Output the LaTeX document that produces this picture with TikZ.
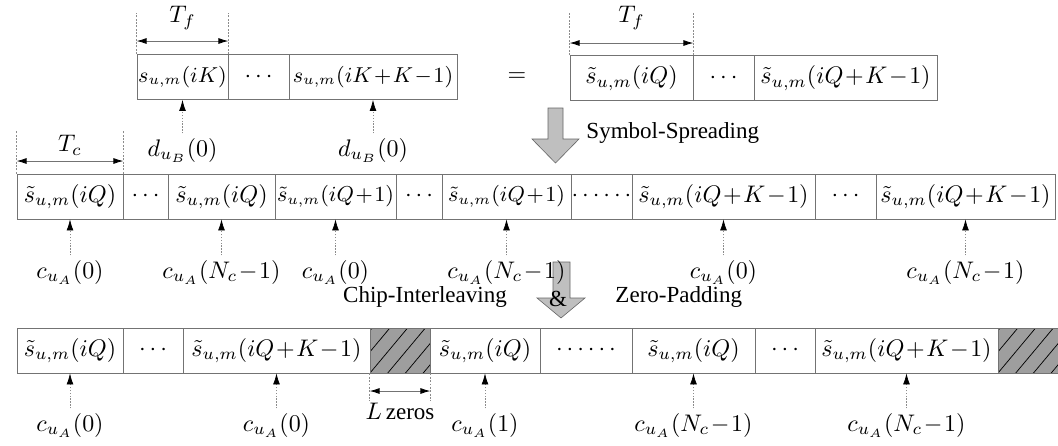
\documentclass[tikz,border=0pt]{standalone}
\usepackage{fontspec}
\newfontfamily\tmfont{Liberation Serif}
\usetikzlibrary{arrows.meta}
\newcommand\mplus{\mskip1.2mu{+}\mskip1.2mu}
\newcommand\mminus{\mskip1.2mu{-}\mskip1.2mu}
\newcommand\stl{\tilde{s}_{u,m}}
\newcommand\smallfit{\fontsize{9.2}{11}\selectfont}
\newcommand\mycell[5]{\node[cellsty, minimum width={(#3-#2)*0.417pt}] (#1) at ({(#2+#3)/2},#4) {\makebox[0pt]{#5}};}
\newcommand\myhatch[4]{\node[hatchsty, minimum width={(#3-#2)*0.417pt}] (#1) at ({(#2+#3)/2},#4) {};}
\begin{document}
\begin{tikzpicture}[x=0.417pt,y=-0.417pt,
  every node/.style={font=\fontsize{9.7}{11.6}\selectfont, inner sep=0pt},
  cellsty/.style={draw=black!55, line width=0.35pt, minimum height=18.77pt, inner sep=0pt},
  hatchsty/.style={cellsty, fill=black!38,
    path picture={\foreach \k in {-4,...,4}{\draw[black, line width=0.3pt]
      ([xshift=\k*7.4pt]path picture bounding box.south west) -- ++(16.7pt,20pt);}}},
  sigsty/.style={black!45, line width=0.3pt, dash pattern=on 0.6pt off 0.6pt,
    -{Latex[color=black,length=4.6pt,width=2.9pt]}, shorten <=1.7pt},
  dimsty/.style={black!55, line width=0.35pt,
    {Latex[color=black,length=4.2pt,width=2.5pt]}-{Latex[color=black,length=4.2pt,width=2.5pt]}},
  extsty/.style={black!45, line width=0.25pt, dash pattern=on 0.8pt off 0.6pt},
  blocksty/.style={fill=black!25, draw=black!60, line width=0.25pt},
  txtsty/.style={font=\fontsize{9.6}{11.5}\selectfont\tmfont}
]
\useasboundingbox (0,0) rectangle (1058,445);

% ---- row 1 ----
\mycell{c11}{137}{228}{77}{{\smallfit$s_{u,m}(iK)$}}
\mycell{c12}{228}{289}{77}{$\cdots$}
\mycell{c13}{289}{457}{77}{{\smallfit$s_{u,m}(iK\mplus K\mminus 1)$}}
\node (eq) at (517,77) {$=$};
\mycell{r11}{570}{693}{78}{$\stl(iQ)$}
\mycell{r12}{693}{754}{78}{$\cdots$}
\mycell{r13}{754}{937}{78}{$\stl(iQ\mplus K\mminus 1)$}

% T_f dimensions
\draw[extsty] (c11.north west) -- (c11.north west |- 0,13);
\draw[extsty] (c11.north east) -- (c11.north east |- 0,13);
\draw[dimsty] (c11.north west |- 0,41) -- (c11.north east |- 0,41);
\node (tf1) at (182.5,18) {$T_f$};
\draw[extsty] (r11.north west) -- (r11.north west |- 0,13);
\draw[extsty] (r11.north east) -- (r11.north east |- 0,13);
\draw[dimsty] (r11.north west |- 0,43) -- (r11.north east |- 0,43);
\node (tf2) at (631.5,18) {$T_f$};

% d labels
\node (d1) at (182.5,150) {$d_{u_B}(0)$};
\node (d2) at (373,150) {$d_{u_B}(0)$};
\draw[sigsty] (d1) -- (c11);
\draw[sigsty] (d2) -- (c13);

% block arrow 1
\draw[blocksty] (548,108) -- (563,108) -- (563,139) -- (579,139) -- (555.5,163) -- (532,139) -- (548,139) -- cycle;
\node[txtsty, anchor=west] (sp) at (586,133) {Symbol-Spreading};

% ---- row 2 ----
\mycell{c21}{17}{123}{196.5}{$\stl(iQ)$}
\mycell{c22}{123}{168}{196.5}{$\cdots$}
\mycell{c23}{168}{275}{196.5}{$\stl(iQ)$}
\mycell{c24}{275}{396}{196.5}{{\smallfit$\stl(iQ\mplus 1)$}}
\mycell{c25}{396}{442}{196.5}{$\cdots$}
\mycell{c26}{442}{571}{196.5}{{\smallfit$\stl(iQ\mplus 1)$}}
\mycell{c27}{571}{632}{196.5}{$\cdots\cdots$}
\mycell{c28}{632}{815}{196.5}{$\stl(iQ\mplus K\mminus 1)$}
\mycell{c29}{815}{876}{196.5}{$\cdots$}
\mycell{c2x}{876}{1055}{196.5}{$\stl(iQ\mplus K\mminus 1)$}

% T_c dimension
\draw[extsty] (c21.north west) -- (c21.north west |- 0,130);
\draw[extsty] (c21.north east) -- (c21.north east |- 0,130);
\draw[dimsty] (c21.north west |- 0,161) -- (c21.north east |- 0,161);
\node (tc) at (70,145) {$T_c$};

% block arrow 2 (under labels)
\draw[blocksty] (553,262) -- (570,262) -- (570,298) -- (585,298) -- (561,318) -- (537,298) -- (553,298) -- cycle;

% row 2 labels
\node (a1) at (70,272) {$c_{u_A}(0)$};
\node (a2) at (221.5,272) {$c_{u_A}(N_c\mminus 1)$};
\node (a3) at (335.5,272) {$c_{u_A}(0)$};
\node (a4) at (506.5,272) {$c_{u_A}(N_c\mminus 1)$};
\node (a5) at (723.5,272) {$c_{u_A}(0)$};
\node (a6) at (965.5,272) {$c_{u_A}(N_c\mminus 1)$};
\draw[sigsty] (a1) -- (c21);
\draw[sigsty] (a2) -- (c23);
\draw[sigsty] (a3) -- (c24);
\draw[sigsty] (a4) -- (c26);
\draw[sigsty] (a5) -- (c28);
\draw[sigsty] (a6) -- (c2x);

\node[txtsty] (ci) at (425,297) {Chip-Interleaving};
\node[txtsty] (amp) at (558,299) {\&};
\node[txtsty, anchor=west] (zp) at (615,297) {Zero-Padding};

% ---- row 3 ----
\mycell{c31}{17}{123}{350.5}{$\stl(iQ)$}
\mycell{c32}{123}{183}{350.5}{$\cdots$}
\mycell{c33}{183}{370}{350.5}{$\stl(iQ\mplus K\mminus 1)$}
\myhatch{z1}{370}{430}{350.5}
\mycell{c34}{430}{540}{350.5}{$\stl(iQ)$}
\mycell{c35}{540}{632}{350.5}{$\cdots\cdots$}
\mycell{c36}{632}{755}{350.5}{$\stl(iQ)$}
\mycell{c37}{755}{815}{350.5}{$\cdots$}
\mycell{c38}{815}{998}{350.5}{$\stl(iQ\mplus K\mminus 1)$}
\myhatch{z2}{998}{1058}{350.5}

% L zeros
\draw[extsty] (z1.south west) -- (z1.south west |- 0,401);
\draw[extsty] (z1.south east) -- (z1.south east |- 0,401);
\draw[dimsty] (z1.south west |- 0,391) -- (z1.south east |- 0,391);
\node (lz) at (400,411) {$L$\,{\fontsize{9.6}{11.5}\selectfont\tmfont zeros}};

% row 3 labels
\node (b1) at (70,425) {$c_{u_A}(0)$};
\node (b2) at (276.5,425) {$c_{u_A}(0)$};
\node (b3) at (485,425) {$c_{u_A}(1)$};
\node (b4) at (693.5,425) {$c_{u_A}(N_c\mminus 1)$};
\node (b5) at (906.5,425) {$c_{u_A}(N_c\mminus 1)$};
\draw[sigsty] (b1) -- (c31);
\draw[sigsty] (b2) -- (c33);
\draw[sigsty] (b3) -- (c34);
\draw[sigsty] (b4) -- (c36);
\draw[sigsty] (b5) -- (c38);
\end{tikzpicture}
\end{document}
